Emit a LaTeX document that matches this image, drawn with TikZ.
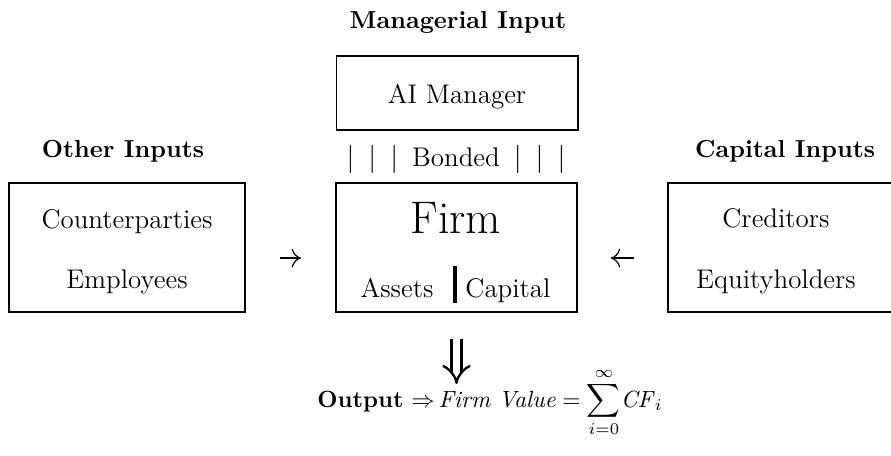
\documentclass[tikz,border=0pt]{standalone}
\usepackage{amsmath,amssymb}
\usepackage{xcolor}
\usetikzlibrary{arrows.meta}
\usetikzlibrary{positioning}

\tikzset{
  panel/.style={draw, line width=0.85pt, inner sep=0pt},
  head/.style={font=\fontsize{10.5}{13}\selectfont\bfseries, anchor=base},
  entry/.style={font=\fontsize{11.5}{13}\selectfont, anchor=base},
  flow/.style={-{To[length=4pt,width=8pt]}, line width=0.5pt},
  implies/.style={double, double distance=3.2pt, line width=1pt, -{Implies[scale=1.6]}}
}

\begin{document}
\begin{tikzpicture}[x=0.015cm, y=-0.015cm]
    \useasboundingbox (0,0) rectangle (891,455);
    % boxes
    \node[panel, minimum width=3.615cm, minimum height=1.11cm] (mgr) at (457,93) {};
    \node[panel, minimum width=3.615cm, minimum height=1.935cm] (firm) at (456.5,247.5) {};
    \node[panel, minimum width=3.54cm, minimum height=1.935cm] (other) at (127,247.5) {};
    \node[panel, minimum width=3.375cm, minimum height=1.935cm] (cap) at (780.5,247.5) {};
    % headings
    \node[head] (mgrhead) at (458,28) {Managerial Input};
    \node[head] (otherhead) at (123,157) {Other Inputs};
    \node[head] (caphead) at (785,157) {Capital Inputs};
    % box texts
    \node[entry] (ai) at (457,103) {AI Manager};
    \node[entry] (cp) at (127,228) {Counterparties};
    \node[entry] (emp) at (127,288) {Employees};
    \node[entry] (cred) at (776,227) {Creditors};
    \node[entry] (eq) at (776,288) {Equityholders};
    \node[entry, font=\fontsize{19.5}{22}\selectfont] (firmname) at (456,233) {Firm};
    \node[entry] (assets) at (397,297) {Assets};
    \node[entry] (capital) at (508,297) {Capital};
    \coordinate (bartop) at (455,266);
    \coordinate (barbot) at (455,303);
    \draw[line width=1.3pt] (bartop) -- (barbot);
    \node[entry] (bond) at (456,166) {$|$\hspace{6pt}$|$\hspace{6pt}$|$\hspace{6pt}Bonded\hspace{6pt}$|$\hspace{6pt}$|$\hspace{6pt}$|$};
    % arrows
    \draw[flow, shorten <=14.5pt, shorten >=14.5pt] ([yshift=-4.5pt]other.east) -- ([yshift=-4.5pt]firm.west);
    \draw[flow, shorten <=14pt, shorten >=14pt] ([yshift=-4.5pt]cap.west) -- ([yshift=-4.5pt]firm.east);
    \coordinate (down) at (456.5,384);
    \draw[implies, shorten <=11pt] (firm.south) -- (down);
    % output
    \node[entry, font=\fontsize{10}{12}\selectfont] (out) at (490,407) {\textbf{Output}\,\,$\Rightarrow$\,\textit{Firm Value}\;$=$\;$\displaystyle\sum_{i=0}^{\infty}$\textit{CF}$_i$};
  \end{tikzpicture}
\end{document}
